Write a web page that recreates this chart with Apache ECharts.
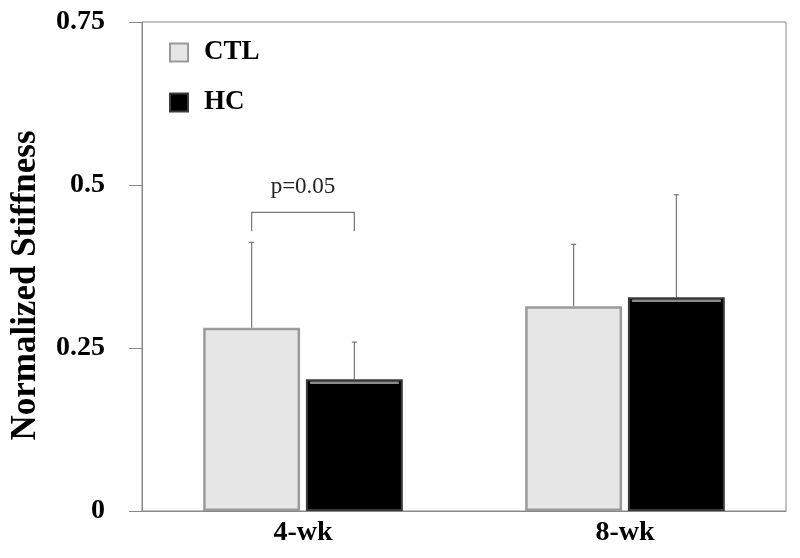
<!DOCTYPE html>
<html><head><meta charset="utf-8">
<script src="https://cdn.jsdelivr.net/npm/echarts@6/dist/echarts.min.js"></script>
<style>html,body{margin:0;padding:0;background:#fff}#c{width:800px;height:558px}</style>
</head><body><div id="c"></div>
<script>
var categories = ['4-wk', '8-wk'];
var ctlMean = [0.281, 0.314];
var ctlErr = [0.412, 0.409];
var hcMean = [0.202, 0.328];
var hcErr = [0.259, 0.485];
var yTicks = [0, 0.25, 0.5, 0.75];
var bracket = { cat: 0, top: 0.458, leg: 0.429, label: 'p=0.05', labelY: 0.497 };

var CAT_GAP = 0.38, BAR_GAP = 0.06;
function barWidth(bandW) { return bandW * (1 - CAT_GAP) / (2 + BAR_GAP); }
function barOffset(bandW, idx) {
  var bw = barWidth(bandW);
  var total = bw * 2 + bw * BAR_GAP;
  return -total / 2 + bw / 2 + idx * (bw + bw * BAR_GAP);
}

function errRender(idx) {
  return function (params, api) {
    var c = api.value(0), m = api.value(1), e = api.value(2);
    var band = api.size([1, 0])[0];
    var base = api.coord([c, m]);
    var top = api.coord([c, e]);
    var x = base[0] + barOffset(band, idx);
    var bw = barWidth(band);
    var kids = [];
    if (idx === 1) {
      kids.push({ type: 'line', shape: { x1: x - bw / 2 + 5, y1: base[1] + 3.5, x2: x + bw / 2 - 5, y2: base[1] + 3.5 },
        style: { stroke: '#8a8a8a', lineWidth: 2.5, lineCap: 'round' } });
    }
    kids.push({ type: 'line', shape: { x1: x, y1: base[1], x2: x, y2: top[1] }, style: { stroke: '#777', lineWidth: 1.2 } });
    kids.push({ type: 'line', shape: { x1: x - 2.5, y1: top[1], x2: x + 2.5, y2: top[1] }, style: { stroke: '#777', lineWidth: 1.2 } });
    return { type: 'group', children: kids };
  };
}

var chart = echarts.init(document.getElementById('c'));
chart.setOption({
  animation: false,
  grid: { left: 142, right: 14, top: 22, bottom: 47, show: true, borderColor: '#888', borderWidth: 1 },
  legend: {
    orient: 'vertical', left: 169, top: 39, itemWidth: 18, itemHeight: 18, itemGap: 23, padding: 0,
    icon: 'rect',
    textStyle: { fontFamily: 'Liberation Serif', fontWeight: 'bold', fontSize: 27, color: '#000', padding: [0, 0, 0, 11] },
    data: ['CTL', 'HC']
  },
  xAxis: {
    type: 'category', data: categories,
    axisLine: { lineStyle: { color: '#888' } },
    axisTick: { show: false },
    axisLabel: { fontFamily: 'Liberation Serif', fontWeight: 'bold', fontSize: 28, color: '#000', margin: 8 }
  },
  yAxis: {
    type: 'value', min: 0, max: 0.75, interval: 0.25,
    name: 'Normalized Stiffness', nameLocation: 'middle', nameGap: 99,
    nameTextStyle: { fontFamily: 'Liberation Serif', fontWeight: 'bold', fontSize: 35, color: '#000', padding: [0, 38, 0, 0] },
    axisLine: { show: true, lineStyle: { color: '#888' } },
    axisTick: { show: true, length: 13, lineStyle: { color: '#888' } },
    splitLine: { show: false },
    axisLabel: {
      fontFamily: 'Liberation Serif', fontWeight: 'bold', fontSize: 28, color: '#000', margin: 37,
      formatter: function (v) { var i = yTicks.indexOf(v); return i >= 0 ? String(yTicks[i]) : ''; }
    }
  },
  series: [
    { name: 'CTL', type: 'bar', data: ctlMean, barCategoryGap: '38%', barGap: '6%',
      itemStyle: { color: '#e6e6e6', borderColor: '#9a9a9a', borderWidth: 2.5 } },
    { name: 'HC', type: 'bar', data: hcMean,
      itemStyle: { color: '#000', borderColor: '#3a3a3a', borderWidth: 2 } },
    { type: 'custom', renderItem: errRender(0), z: 5,
      data: categories.map(function (c, i) { return [i, ctlMean[i], ctlErr[i]]; }) },
    { type: 'custom', renderItem: errRender(1), z: 5,
      data: categories.map(function (c, i) { return [i, hcMean[i], hcErr[i]]; }) },
    { type: 'custom', z: 6,
      renderItem: function (params, api) {
        var c = api.value(0);
        var band = api.size([1, 0])[0];
        var t = api.coord([c, api.value(1)]);
        var l = api.coord([c, api.value(2)]);
        var ly = api.coord([c, api.value(3)]);
        var x1 = t[0] + barOffset(band, 0), x2 = t[0] + barOffset(band, 1);
        return { type: 'group', children: [
          { type: 'polyline', shape: { points: [[x1, l[1]], [x1, t[1]], [x2, t[1]], [x2, l[1]]] }, style: { stroke: '#777', lineWidth: 1.2, fill: null } },
          { type: 'text', style: { text: bracket.label, x: (x1 + x2) / 2, y: ly[1], align: 'center', verticalAlign: 'middle', font: '23px "Liberation Serif"', fill: '#222' } }
        ]};
      },
      data: [[bracket.cat, bracket.top, bracket.leg, bracket.labelY]] }
  ]
});
</script></body></html>
